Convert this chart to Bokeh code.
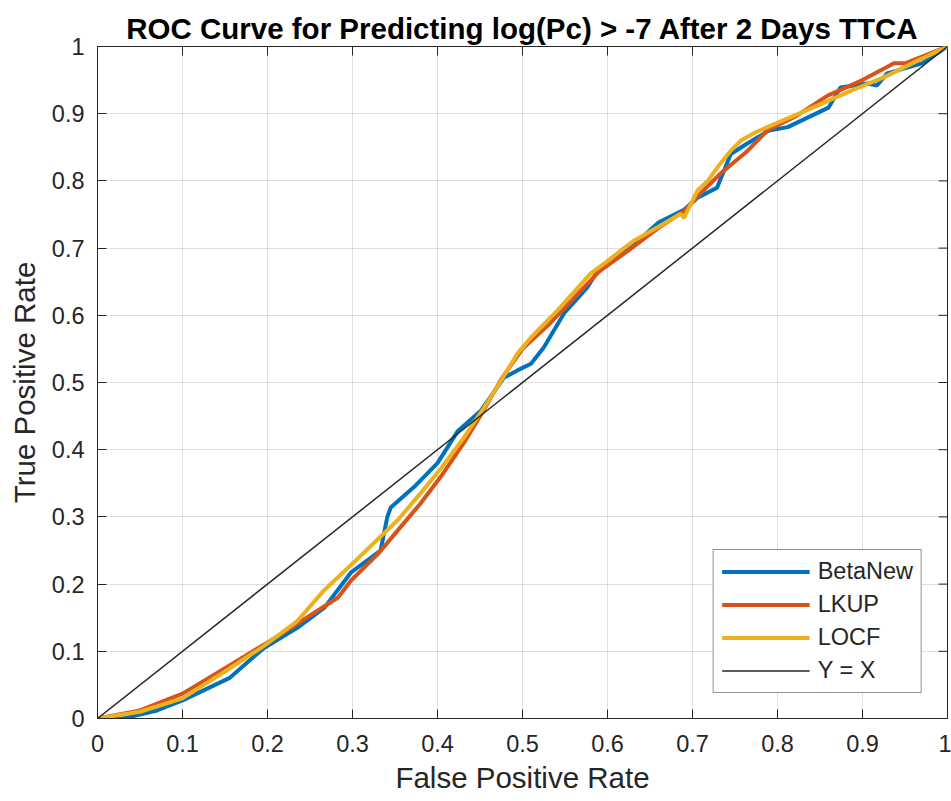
import math
from bokeh.plotting import figure
from bokeh.models import Legend, LegendItem, FixedTicker, Range1d
from bokeh.embed import file_html
from bokeh.resources import INLINE

# ---- data ----
beta_x = [0, 0.03, 0.07, 0.10, 0.155, 0.196, 0.235, 0.267, 0.298, 0.333, 0.341, 0.345,
          0.372, 0.40, 0.424, 0.451, 0.478, 0.494, 0.51, 0.525, 0.549, 0.576, 0.589,
          0.607, 0.627, 0.66, 0.69, 0.706, 0.729, 0.745, 0.765, 0.79, 0.812, 0.86,
          0.874, 0.906, 0.917, 0.929, 0.97, 1.0]
beta_y = [0, 0.0, 0.012, 0.027, 0.06, 0.105, 0.135, 0.165, 0.217, 0.25, 0.30, 0.314,
          0.344, 0.38, 0.428, 0.458, 0.507, 0.518, 0.528, 0.552, 0.603, 0.641, 0.667,
          0.686, 0.70, 0.738, 0.757, 0.775, 0.79, 0.84, 0.856, 0.875, 0.88, 0.909,
          0.939, 0.945, 0.942, 0.96, 0.975, 1.0]

lkup_x = [0, 0.05, 0.10, 0.15, 0.196, 0.235, 0.283, 0.298, 0.33, 0.36, 0.38, 0.404,
          0.431, 0.455, 0.475, 0.50, 0.53, 0.56, 0.59, 0.624, 0.66, 0.69, 0.709, 0.733,
          0.765, 0.788, 0.82, 0.859, 0.90, 0.937, 0.95, 0.97, 1.0]
lkup_y = [0, 0.012, 0.037, 0.075, 0.11, 0.141, 0.18, 0.205, 0.245, 0.29, 0.32, 0.36,
          0.41, 0.46, 0.505, 0.55, 0.585, 0.625, 0.665, 0.696, 0.73, 0.755, 0.781, 0.811,
          0.845, 0.875, 0.895, 0.927, 0.95, 0.975, 0.975, 0.985, 1.0]

locf_x = [0, 0.05, 0.10, 0.15, 0.196, 0.235, 0.266, 0.298, 0.353, 0.38, 0.404, 0.431,
          0.455, 0.475, 0.494, 0.51, 0.541, 0.58, 0.596, 0.631, 0.659, 0.686, 0.69,
          0.706, 0.718, 0.731, 0.745, 0.757, 0.772, 0.788, 0.812, 0.847, 0.886, 0.925,
          0.965, 1.0]
locf_y = [0, 0.01, 0.03, 0.07, 0.108, 0.145, 0.19, 0.228, 0.295, 0.335, 0.372, 0.418,
          0.463, 0.503, 0.543, 0.567, 0.607, 0.662, 0.677, 0.711, 0.731, 0.751, 0.745,
          0.786, 0.80, 0.823, 0.845, 0.86, 0.871, 0.88, 0.893, 0.912, 0.934, 0.954,
          0.979, 1.0]

ref_x = [0, 1]
ref_y = [0, 1]

ticks = [0, 0.1, 0.2, 0.3, 0.4, 0.5, 0.6, 0.7, 0.8, 0.9, 1.0]
tick_labels = {0: "0", 0.1: "0.1", 0.2: "0.2", 0.3: "0.3", 0.4: "0.4", 0.5: "0.5",
               0.6: "0.6", 0.7: "0.7", 0.8: "0.8", 0.9: "0.9", 1.0: "1"}

series_names = ["BetaNew", "LKUP", "LOCF", "Y = X"]
colors = ["#0072BD", "#D95319", "#EDB120", "#262626"]

FONT = "Liberation Sans"
AX = "#262626"

p = figure(width=951, height=801, output_backend="svg", toolbar_location=None,
           x_range=Range1d(0, 1), y_range=Range1d(0, 1),
           min_border_left=97, min_border_right=4, min_border_top=46, min_border_bottom=83,
           title="ROC Curve for Predicting log(Pc) > -7 After 2 Days TTCA")

p.title.text_font = FONT
p.title.text_font_size = "29.5px"
p.title.text_font_style = "bold"
p.title.text_color = "#000000"
p.title.align = "center"
p.title.standoff = 4
p.title.offset = 0

p.background_fill_color = "white"
p.border_fill_color = "white"
p.outline_line_color = AX
p.outline_line_width = 1

for ax in (p.xaxis[0], p.yaxis[0]):
    ax.ticker = FixedTicker(ticks=ticks)
    ax.major_label_overrides = tick_labels
    ax.minor_tick_line_color = None
    ax.major_tick_in = 9
    ax.major_tick_out = 0
    ax.major_tick_line_color = AX
    ax.axis_line_color = AX
    ax.major_label_text_font = FONT
    ax.major_label_text_font_size = "23.5px"
    ax.major_label_text_color = AX
    ax.axis_label_text_font = FONT
    ax.axis_label_text_font_size = "29.5px"
    ax.axis_label_text_font_style = "normal"
    ax.axis_label_text_color = AX

p.xaxis[0].axis_label = "False Positive Rate"
p.yaxis[0].axis_label = "True Positive Rate"
p.xaxis[0].major_label_standoff = 16
p.xaxis[0].axis_label_standoff = 6
p.yaxis[0].major_label_standoff = 13
p.yaxis[0].axis_label_standoff = 8

p.grid.ticker = FixedTicker(ticks=ticks)
p.grid.grid_line_color = AX
p.grid.grid_line_alpha = 0.15
p.grid.grid_line_width = 1

# box ticks on the top and right edges (half of each dash is clipped by the frame)
p.scatter(ticks, [1] * len(ticks), marker="dash", angle=math.pi / 2, size=18,
          line_color=AX, line_width=1)
p.scatter([1] * len(ticks), ticks, marker="dash", size=18, line_color=AX, line_width=1)

r1 = p.line(beta_x, beta_y, line_color=colors[0], line_width=4)
r2 = p.line(lkup_x, lkup_y, line_color=colors[1], line_width=4)
r3 = p.line(locf_x, locf_y, line_color=colors[2], line_width=4)
r4 = p.line(ref_x, ref_y, line_color=colors[3], line_width=1.5)

legend = Legend(items=[LegendItem(label=series_names[i], renderers=[r])
                       for i, r in enumerate([r1, r2, r3, r4])],
                location="bottom_right", margin=25, padding=8, spacing=6,
                glyph_width=88, glyph_height=27, label_height=27, label_standoff=8,
                label_text_font=FONT, label_text_font_size="23.5px", label_text_color=AX,
                border_line_color=AX, border_line_width=1.2,
                background_fill_color="white", background_fill_alpha=1.0)
p.add_layout(legend, "center")

open("out.html", "w").write(file_html(p, INLINE))
